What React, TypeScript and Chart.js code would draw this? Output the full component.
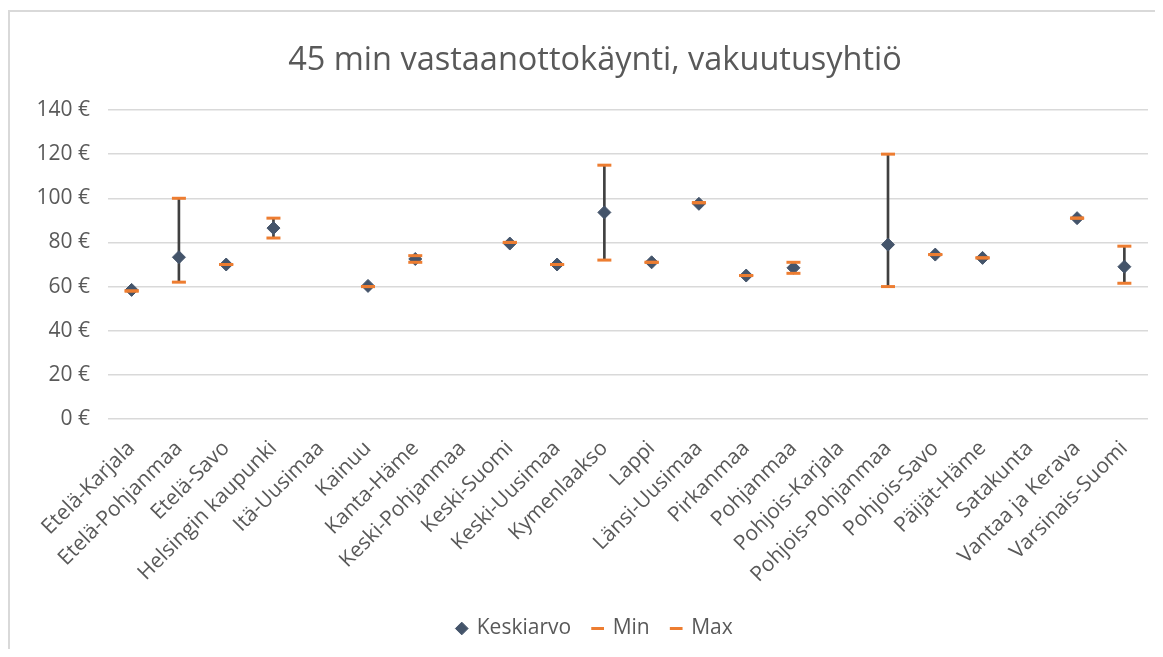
import React, { useEffect, useRef } from "react";
import { Chart, registerables } from "chart.js";

Chart.register(...registerables);

const categories = [
  "Etelä-Karjala",
  "Etelä-Pohjanmaa",
  "Etelä-Savo",
  "Helsingin kaupunki",
  "Itä-Uusimaa",
  "Kainuu",
  "Kanta-Häme",
  "Keski-Pohjanmaa",
  "Keski-Suomi",
  "Keski-Uusimaa",
  "Kymenlaakso",
  "Lappi",
  "Länsi-Uusimaa",
  "Pirkanmaa",
  "Pohjanmaa",
  "Pohjois-Karjala",
  "Pohjois-Pohjanmaa",
  "Pohjois-Savo",
  "Päijät-Häme",
  "Satakunta",
  "Vantaa ja Kerava",
  "Varsinais-Suomi",
];

const meanValues = [58.5, 73.3, 70, 86.5, null, 60.3, 72.5, null, 79.5, 70, 93.6, 71, 97.5, 65, 68.5, null, 79, 74.5, 73, null, 91, 69];
const minValues = [58, 62, 70, 82, null, 60, 71, null, 80, 70, 72, 71, 98, 65, 66, null, 60, 74.5, 73, null, 91, 61.5];
const maxValues = [58, 100, 70, 91, null, 60, 74, null, 80, 70, 115, 71, 98, 65, 71, null, 120, 74.5, 73, null, 91, 78.3];

const titleText = "45 min vastaanottokäynti, vakuutusyhtiö";
const seriesNames = ["Keskiarvo", "Min", "Max"];
const currencySuffix = " €";

const FONT = "'Open Sans', 'DejaVu Sans', sans-serif";

export default function App() {
  const canvasRef = useRef<HTMLCanvasElement | null>(null);

  useEffect(() => {
    const canvas = canvasRef.current;
    if (!canvas) return;
    const rangeData = minValues.map((mn, i) => {
      const mx = maxValues[i];
      if (mn === null || mx === null) return null;
      return [mn, mx];
    });
    const chart = new Chart(canvas, {
      type: "bar",
      data: {
        labels: categories,
        datasets: [
          {
            type: "line",
            label: seriesNames[0],
            data: meanValues,
            showLine: false,
            pointStyle: "rectRot",
            pointRadius: 6.5,
            pointBackgroundColor: "#44546A",
            pointBorderColor: "#44546A",
            pointBorderWidth: 1,
            backgroundColor: "#44546A",
            borderColor: "#44546A",
            order: 2,
            yAxisID: "y",
          } as any,
          {
            type: "line",
            label: seriesNames[1],
            data: minValues,
            showLine: false,
            pointStyle: "line",
            pointRadius: 7,
            pointBorderWidth: 3,
            pointBorderColor: "#ED7D31",
            pointBackgroundColor: "#ED7D31",
            borderColor: "#ED7D31",
            backgroundColor: "#ED7D31",
            order: 1,
            yAxisID: "y",
          } as any,
          {
            type: "line",
            label: seriesNames[2],
            data: maxValues,
            showLine: false,
            pointStyle: "line",
            pointRadius: 7,
            pointBorderWidth: 3,
            pointBorderColor: "#ED7D31",
            pointBackgroundColor: "#ED7D31",
            borderColor: "#ED7D31",
            backgroundColor: "#ED7D31",
            order: 1,
            yAxisID: "y",
          } as any,
          {
            type: "bar",
            label: "range",
            data: rangeData as any,
            barThickness: 2,
            backgroundColor: "#404040",
            borderWidth: 0,
            order: 3,
            yAxisID: "y",
          } as any,
        ],
      },
      options: {
        animation: false,
        responsive: true,
        maintainAspectRatio: false,
        layout: { padding: { left: 0, right: 0, top: 0, bottom: 0 } },
        plugins: {
          tooltip: { enabled: false },
          title: {
            display: true,
            text: titleText,
            color: "#595959",
            font: { family: FONT, size: 32.5, weight: "normal" },
            padding: { top: 29, bottom: 30 },
          },
          legend: {
            position: "bottom",
            labels: {
              usePointStyle: true,
              boxWidth: 9,
              boxHeight: 9,
              color: "#595959",
              font: { family: FONT, size: 21 },
              padding: 22,
              filter: (item: any) => item.datasetIndex !== 3,
              sort: (a: any, b: any) => a.datasetIndex - b.datasetIndex,
            },
          },
        },
        scales: {
          x: {
            offset: true,
            grid: { display: false },
            border: { display: false },
            ticks: {
              color: "#595959",
              font: { family: FONT, size: 21 },
              maxRotation: 45,
              minRotation: 45,
              autoSkip: false,
              padding: 9,
            },
            afterFit: (scale: any) => {
              scale.height = 177;
            },
          },
          y: {
            position: "left",
            min: 0,
            max: 140,
            grid: { color: "#d9d9d9", lineWidth: 1.5, drawTicks: false },
            border: { display: false },
            ticks: {
              stepSize: 20,
              color: "#595959",
              font: { family: FONT, size: 21 },
              padding: 18,
              callback: (v: any) => `${v}${currencySuffix}`,
            },
            afterFit: (scale: any) => {
              scale.width = 98;
            },
          },
          yRight: {
            position: "right",
            min: 0,
            max: 140,
            grid: { display: false },
            border: { display: false },
            ticks: { display: false },
            afterFit: (scale: any) => {
              scale.width = 32;
            },
          },
        },
      },
    });
    return () => chart.destroy();
  }, []);

  return (
    <div
      style={{
        marginTop: 2,
        width: 1153,
        height: 637,
        borderLeft: "2px solid #d9d9d9",
        borderTop: "2px solid #d9d9d9",
        overflow: "hidden",
        background: "#fff",
      }}
    >
      <div style={{ position: "relative", width: 1170, height: 637 }}>
        <canvas ref={canvasRef} />
      </div>
    </div>
  );
}
